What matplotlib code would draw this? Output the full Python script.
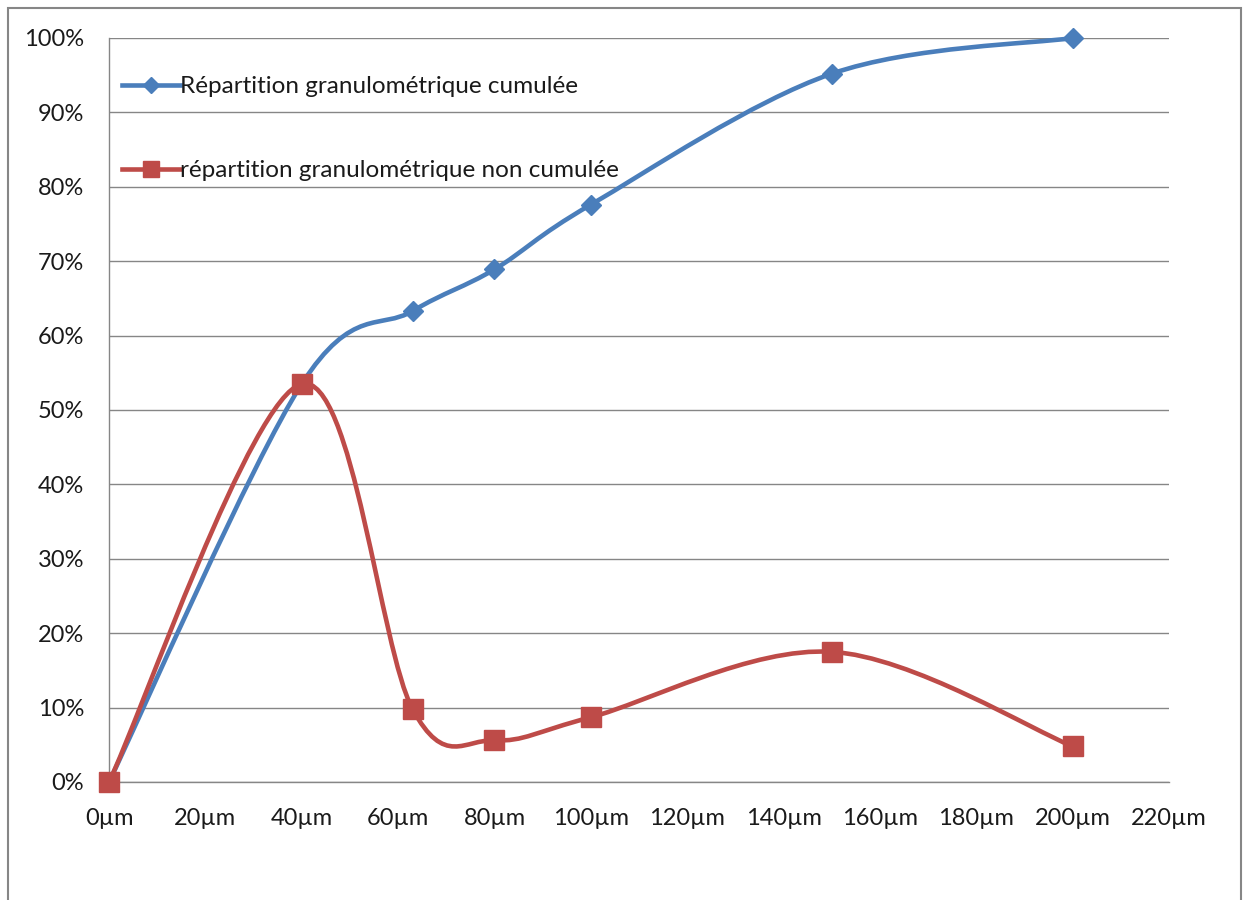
#!/usr/bin/env python3
"""Répartition granulométrique cumulée / non cumulée (courbes lissées style Excel)."""
import matplotlib
matplotlib.use("Agg")
import matplotlib.pyplot as plt
from matplotlib.lines import Line2D
from matplotlib.patches import PathPatch, Rectangle
from matplotlib.path import Path
from matplotlib.ticker import FuncFormatter, MultipleLocator

taille_um = [0, 40, 63, 80, 100, 150, 200]
cumulee = [0.0, 53.5, 63.3, 68.9, 77.6, 95.2, 100.0]
non_cumulee = [0.0, 53.5, 9.8, 5.6, 8.7, 17.5, 4.8]

label_cum = "Répartition granulométrique cumulée"
label_non_cum = "répartition granulométrique non cumulée"

BLEU = "#4A7EBB"
ROUGE = "#BE4B48"
GRIS = "#868686"

plt.rcParams["font.family"] = ["Lato", "DejaVu Sans"]


def chemin_lisse(xs, ys):
    """Courbe de Bezier type Catmull-Rom (lissage Excel)."""
    pts = list(zip(xs, ys))
    n = len(pts)
    verts = [pts[0]]
    codes = [Path.MOVETO]
    for i in range(n - 1):
        p0 = pts[i - 1] if i > 0 else pts[i]
        p1 = pts[i]
        p2 = pts[i + 1]
        p3 = pts[i + 2] if i + 2 < n else pts[i + 1]
        c1 = (p1[0] + (p2[0] - p0[0]) / 6, p1[1] + (p2[1] - p0[1]) / 6)
        c2 = (p2[0] - (p3[0] - p1[0]) / 6, p2[1] - (p3[1] - p1[1]) / 6)
        verts += [c1, c2, p2]
        codes += [Path.CURVE4] * 3
    return Path(verts, codes)


fig = plt.figure(figsize=(12.44, 9), dpi=100)
ax = fig.add_axes([109 / 1244, 118 / 900, 1060 / 1244, 744 / 900])

# cadre extérieur
fig.patches.append(Rectangle((8 / 1244, -0.05), 1233 / 1244, 1.05 - 8 / 900,
                             transform=fig.transFigure, fill=False,
                             edgecolor=GRIS, linewidth=1.5))

for ys, couleur in [(cumulee, BLEU), (non_cumulee, ROUGE)]:
    ax.add_patch(PathPatch(chemin_lisse(taille_um, ys), facecolor="none",
                           edgecolor=couleur, linewidth=3.3, zorder=3,
                           clip_on=False))

ax.plot(taille_um, cumulee, linestyle="none", marker="D", markersize=10,
        color=BLEU, zorder=4, clip_on=False)
ax.plot(taille_um, non_cumulee, linestyle="none", marker="s", markersize=14,
        color=ROUGE, zorder=5, clip_on=False)

ax.set_xlim(0, 220)
ax.set_ylim(0, 100)
ax.xaxis.set_major_locator(MultipleLocator(20))
ax.yaxis.set_major_locator(MultipleLocator(10))
ax.xaxis.set_major_formatter(FuncFormatter(lambda v, p: f"{v:.0f}µm"))
ax.yaxis.set_major_formatter(FuncFormatter(lambda v, p: f"{v:.0f}%"))
ax.tick_params(axis="both", length=0, labelsize=17, colors="#1a1a1a")
ax.tick_params(axis="y", pad=18)
ax.tick_params(axis="x", pad=19)
ax.grid(axis="y", color=GRIS, linewidth=1)
ax.set_axisbelow(True)
for s in ["top", "right"]:
    ax.spines[s].set_visible(False)
for s in ["left", "bottom"]:
    ax.spines[s].set_color(GRIS)
    ax.spines[s].set_linewidth(1)

handles = [
    Line2D([], [], color=BLEU, linewidth=3.3, marker="D", markersize=8),
    Line2D([], [], color=ROUGE, linewidth=3.3, marker="s", markersize=11),
]
leg = ax.legend(handles, [label_cum, label_non_cum], loc="upper left",
                bbox_to_anchor=(-0.0065, 0.975), frameon=False, fontsize=17.5,
                labelspacing=2.6, handlelength=2.4, handletextpad=0.0,
                borderaxespad=0.4)
for t in leg.get_texts():
    t.set_color("#1a1a1a")

fig.savefig("out.png", dpi=100)
